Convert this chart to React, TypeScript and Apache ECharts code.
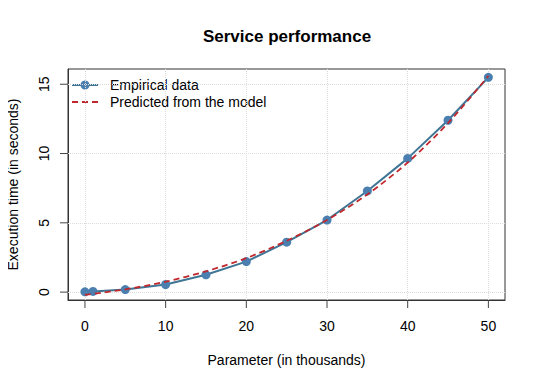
import React, { useEffect, useRef } from "react";
import * as echarts from "echarts";

const xValues = [0, 1, 5, 10, 15, 20, 25, 30, 35, 40, 45, 50];
const empiricalValues = [0.02, 0.05, 0.18, 0.55, 1.25, 2.2, 3.6, 5.2, 7.3, 9.65, 12.4, 15.5];
const predictedX = [0, 5, 10, 15, 20, 25, 30, 35, 40, 45, 50];
const predictedValues = [-0.2, 0.2, 0.75, 1.5, 2.45, 3.7, 5.2, 7.05, 9.35, 12.2, 15.6];
const xTicks = [0, 10, 20, 30, 40, 50];
const yTicks = [0, 5, 10, 15];

const X_MIN = -2.1;
const X_MAX = 52.06;
const Y_MIN = -0.57;
const Y_MAX = 16.1;

const FONT = "Liberation Sans, Arial, sans-serif";
const BLUE = "#4a7fb0";
const LINEBLUE = "#3f7594";
const RED = "#c0282d";
const TICK = "#444";

export default function App() {
  const ref = useRef<HTMLDivElement>(null);
  useEffect(() => {
    if (!ref.current) return;
    const chart = echarts.init(ref.current, undefined, { renderer: "svg" });
    const gridLines = [
      ...xTicks.map((v) => ({ xAxis: v })),
      ...yTicks.map((v) => ({ yAxis: v })),
    ];
    chart.setOption({
      animation: false,
      backgroundColor: "#ffffff",
      title: {
        text: "Service performance",
        left: 282,
        top: 23,
        textAlign: "center",
        textStyle: { fontFamily: FONT, fontSize: 17, fontWeight: "bold", color: "#000" },
      },
      grid: {
        left: 68,
        right: 35,
        top: 69,
        bottom: 86,
        show: true,
        borderColor: "#333",
        borderWidth: 1,
        backgroundColor: "transparent",
        containLabel: false,
        outerBoundsMode: "none",
      },
      xAxis: {
        type: "value",
        min: X_MIN,
        max: X_MAX,
        name: "Parameter (in thousands)",
        nameLocation: "middle",
        nameGap: 53,
        nameTextStyle: { fontFamily: FONT, fontSize: 14, color: "#000" },
        axisLine: { show: true, onZero: false, lineStyle: { color: "#333" } },
        axisTick: { show: false },
        axisLabel: { fontFamily: FONT, fontSize: 14, color: "#000", margin: 19, customValues: xTicks },
        splitLine: { show: false },
      },
      yAxis: {
        type: "value",
        min: Y_MIN,
        max: Y_MAX,
        name: "Execution time (in seconds)",
        nameLocation: "middle",
        nameGap: 48,
        nameTextStyle: { fontFamily: FONT, fontSize: 14, color: "#000" },
        axisLine: { show: true, onZero: false, lineStyle: { color: "#333" } },
        axisTick: { show: false },
        axisLabel: {
          fontFamily: FONT,
          fontSize: 14,
          color: "#000",
          rotate: 90,
          margin: 17,
          customValues: yTicks,
        },
        splitLine: { show: false },
      },
      series: [
        {
          type: "line",
          data: xValues.map((x, i) => [x, empiricalValues[i]]),
          symbol: "circle",
          symbolSize: 9,
          itemStyle: { color: BLUE },
          lineStyle: { color: LINEBLUE, width: 2 },
          z: 3,
          markLine: {
            silent: true,
            symbol: "none",
            label: { show: false },
            lineStyle: { color: "#dcdcdc", type: "dotted", width: 1 },
            data: gridLines,
            z: 1,
          },
        },
        {
          type: "line",
          data: predictedX.map((x, i) => [x, predictedValues[i]]),
          symbol: "none",
          smooth: 0.3,
          lineStyle: { color: RED, width: 1.8, type: [6, 4] },
          z: 4,
        },
        {
          type: "custom",
          silent: true,
          clip: false,
          data: xTicks.map((v) => [v, Y_MIN]),
          renderItem: (_p: any, api: any) => {
            const pt = api.coord([api.value(0), api.value(1)]);
            return {
              type: "line",
              shape: { x1: pt[0], y1: pt[1], x2: pt[0], y2: pt[1] + 8 },
              style: { stroke: TICK, lineWidth: 1 },
            };
          },
        },
        {
          type: "custom",
          silent: true,
          clip: false,
          data: yTicks.map((v) => [X_MIN, v]),
          renderItem: (_p: any, api: any) => {
            const pt = api.coord([api.value(0), api.value(1)]);
            return {
              type: "line",
              shape: { x1: pt[0] - 8, y1: pt[1], x2: pt[0], y2: pt[1] },
              style: { stroke: TICK, lineWidth: 1 },
            };
          },
        },
      ],
      graphic: [
        { type: "line", shape: { x1: 72, y1: 85, x2: 98, y2: 85 }, style: { stroke: LINEBLUE, lineWidth: 2 } },
        { type: "circle", shape: { cx: 85, cy: 85, r: 4.5 }, style: { fill: BLUE } },
        { type: "text", x: 110, y: 85, style: { text: "Empirical data", fontFamily: FONT, fontSize: 14, fill: "#000", verticalAlign: "middle" } },
        { type: "line", shape: { x1: 72, y1: 102, x2: 98, y2: 102 }, style: { stroke: RED, lineWidth: 2, lineDash: [6, 4] } },
        { type: "text", x: 110, y: 102, style: { text: "Predicted from the model", fontFamily: FONT, fontSize: 14, fill: "#000", verticalAlign: "middle" } },
      ],
    });
    return () => chart.dispose();
  }, []);
  return <div ref={ref} style={{ width: 540, height: 386, margin: -8 }} />;
}
